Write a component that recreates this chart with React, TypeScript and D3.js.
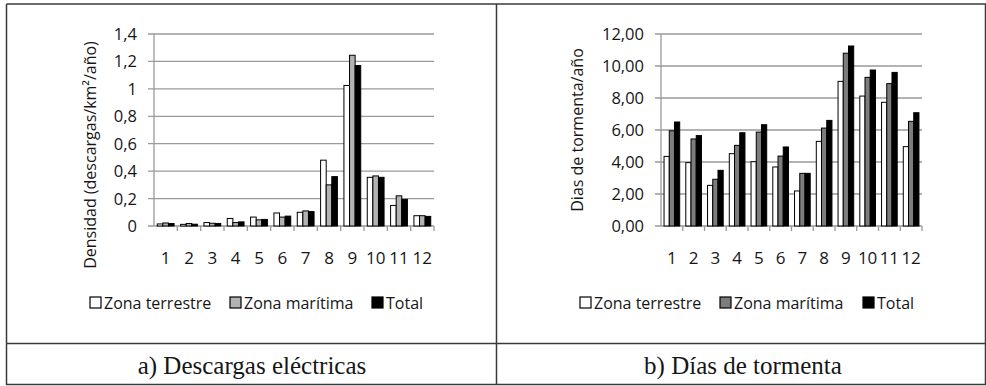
import React from "react";
import * as d3 from "d3";

const categories = ["1", "2", "3", "4", "5", "6", "7", "8", "9", "10", "11", "12"];
const seriesNames = ["Zona terrestre", "Zona marítima", "Total"];

const densTerrestre = [0.015, 0.012, 0.025, 0.055, 0.065, 0.095, 0.1, 0.48, 1.025, 0.355, 0.15, 0.075];
const densMaritima = [0.022, 0.018, 0.02, 0.025, 0.045, 0.065, 0.11, 0.3, 1.245, 0.365, 0.22, 0.075];
const densTotal = [0.018, 0.013, 0.018, 0.03, 0.048, 0.072, 0.105, 0.36, 1.17, 0.355, 0.194, 0.07];
const densTicks = [0, 0.2, 0.4, 0.6, 0.8, 1, 1.2, 1.4];
const densTickLabels = ["0", "0,2", "0,4", "0,6", "0,8", "1", "1,2", "1,4"];

const diasTerrestre = [4.35, 3.96, 2.54, 4.52, 4.02, 3.69, 2.19, 5.29, 9.04, 8.12, 7.73, 4.96];
const diasMaritima = [5.95, 5.44, 2.92, 5.04, 5.87, 4.37, 3.29, 6.12, 10.8, 9.29, 8.9, 6.54];
const diasTotal = [6.5, 5.65, 3.48, 5.83, 6.33, 4.94, 3.29, 6.6, 11.25, 9.75, 9.6, 7.08];
const diasTicks = [0, 2, 4, 6, 8, 10, 12];
const diasTickLabels = ["0,00", "2,00", "4,00", "6,00", "8,00", "10,00", "12,00"];

const SANS = "'Open Sans', 'Noto Sans', sans-serif";
const SERIF = "'Liberation Serif', 'DejaVu Serif', serif";
const INK = "#161616";

type PanelProps = {
  x0: number;
  x1: number;
  series: number[][];
  ticks: number[];
  tickLabels: string[];
  yMax: number;
  grayFill: string;
  yLabel: string;
  yLabelX: number;
  yLabelY: number;
  legendX: number[];
};

function Panel(p: PanelProps) {
  const yTop = 34;
  const yBot = 226;
  const y = d3.scaleLinear().domain([0, p.yMax]).range([yBot, yTop]);
  const xb = d3.scaleBand<string>().domain(categories).range([p.x0, p.x1]).paddingInner(0.28).paddingOuter(0.14);
  const step = xb.step();
  const xs = d3.scaleBand<number>().domain([0, 1, 2]).range([0, xb.bandwidth()]);
  const fills = ["#ffffff", p.grayFill, "#000000"];
  const gridColor = "#9a9a9a";
  return (
    <g>
      {p.ticks.map((t, i) => (
        <g key={"g" + i}>
          {t > 0 && (
            <line x1={p.x0 - 6} x2={p.x1} y1={y(t)} y2={y(t)} stroke={gridColor} strokeWidth={1.3} />
          )}
          <text x={p.x0 - 17} y={y(t)} dy="0.36em" textAnchor="end" fontFamily={SANS} fontSize={16.5} fill={INK}>
            {p.tickLabels[i]}
          </text>
        </g>
      ))}
      <line x1={p.x0} x2={p.x0} y1={yTop} y2={yBot} stroke={gridColor} strokeWidth={1.3} />
      <line x1={p.x0 - 6} x2={p.x1} y1={yBot} y2={yBot} stroke={gridColor} strokeWidth={1.3} />
      {categories.map((c, i) => (
        <line key={"t" + i} x1={p.x0 + step * (i + 1)} x2={p.x0 + step * (i + 1)} y1={yBot} y2={yBot + 5} stroke={gridColor} strokeWidth={1.3} />
      ))}
      {categories.map((c, i) =>
        p.series.map((s, j) => (
          <rect
            key={"b" + i + "-" + j}
            x={(xb(c) as number) + (xs(j) as number)}
            y={y(s[i])}
            width={xs.bandwidth()}
            height={yBot - y(s[i])}
            fill={fills[j]}
            stroke="#000"
            strokeWidth={1}
          />
        ))
      )}
      {categories.map((c, i) => (
        <text key={"c" + i} x={(xb(c) as number) + xb.bandwidth() / 2} y={258} dy="0.36em" textAnchor="middle" fontFamily={SANS} fontSize={17} fill={INK}>
          {c}
        </text>
      ))}
      <text
        transform={`translate(${p.yLabelX},${p.yLabelY}) rotate(-90)`}
        textAnchor="middle"
        dy="0.36em"
        fontFamily={SANS}
        fontSize={16}
        fill={INK}
      >
        {p.yLabel}
      </text>
      {seriesNames.map((n, j) => (
        <g key={"l" + j}>
          <rect x={p.legendX[j]} y={297} width={11} height={11} fill={fills[j]} stroke="#000" strokeWidth={1.2} />
          <text x={p.legendX[j] + 14} y={303} dy="0.36em" fontFamily={SANS} fontSize={16} fill={INK}>
            {n}
          </text>
        </g>
      ))}
    </g>
  );
}

export default function App() {
  const border = "#3a3a3a";
  return (
    <svg width={986} height={386} style={{ position: "absolute", left: 0, top: 0, background: "#fff" }}>
      <rect x={0} y={0} width={986} height={386} fill="#fff" />
      <line x1={6.5} x2={986} y1={4} y2={4} stroke={border} strokeWidth={1.5} />
      <line x1={6.5} x2={986} y1={343.5} y2={343.5} stroke={border} strokeWidth={1.5} />
      <line x1={6.5} x2={986} y1={384.5} y2={384.5} stroke={border} strokeWidth={1.5} />
      <line x1={6.5} x2={6.5} y1={4} y2={385} stroke={border} strokeWidth={1.5} />
      <line x1={496.5} x2={496.5} y1={4} y2={385} stroke={border} strokeWidth={1.5} />
      <line x1={985.5} x2={985.5} y1={4} y2={385} stroke={border} strokeWidth={1.5} />
      <Panel
        x0={154}
        x1={434}
        series={[densTerrestre, densMaritima, densTotal]}
        ticks={densTicks}
        tickLabels={densTickLabels}
        yMax={1.4}
        grayFill="#b3b3b3"
        yLabel="Densidad (descargas/km²/año)"
        yLabelX={90}
        yLabelY={155}
        legendX={[90, 230, 372]}
      />
      <Panel
        x0={661}
        x1={922}
        series={[diasTerrestre, diasMaritima, diasTotal]}
        ticks={diasTicks}
        tickLabels={diasTickLabels}
        yMax={12}
        grayFill="#7d7d7d"
        yLabel="Dias de tormenta/año"
        yLabelX={577}
        yLabelY={130}
        legendX={[580, 720, 863]}
      />
      <text x={252} y={365} dy="0.36em" textAnchor="middle" fontFamily={SERIF} fontSize={25} fill={INK}>
        a) Descargas eléctricas
      </text>
      <text x={743} y={365} dy="0.36em" textAnchor="middle" fontFamily={SERIF} fontSize={25} fill={INK}>
        b) Días de tormenta
      </text>
    </svg>
  );
}
